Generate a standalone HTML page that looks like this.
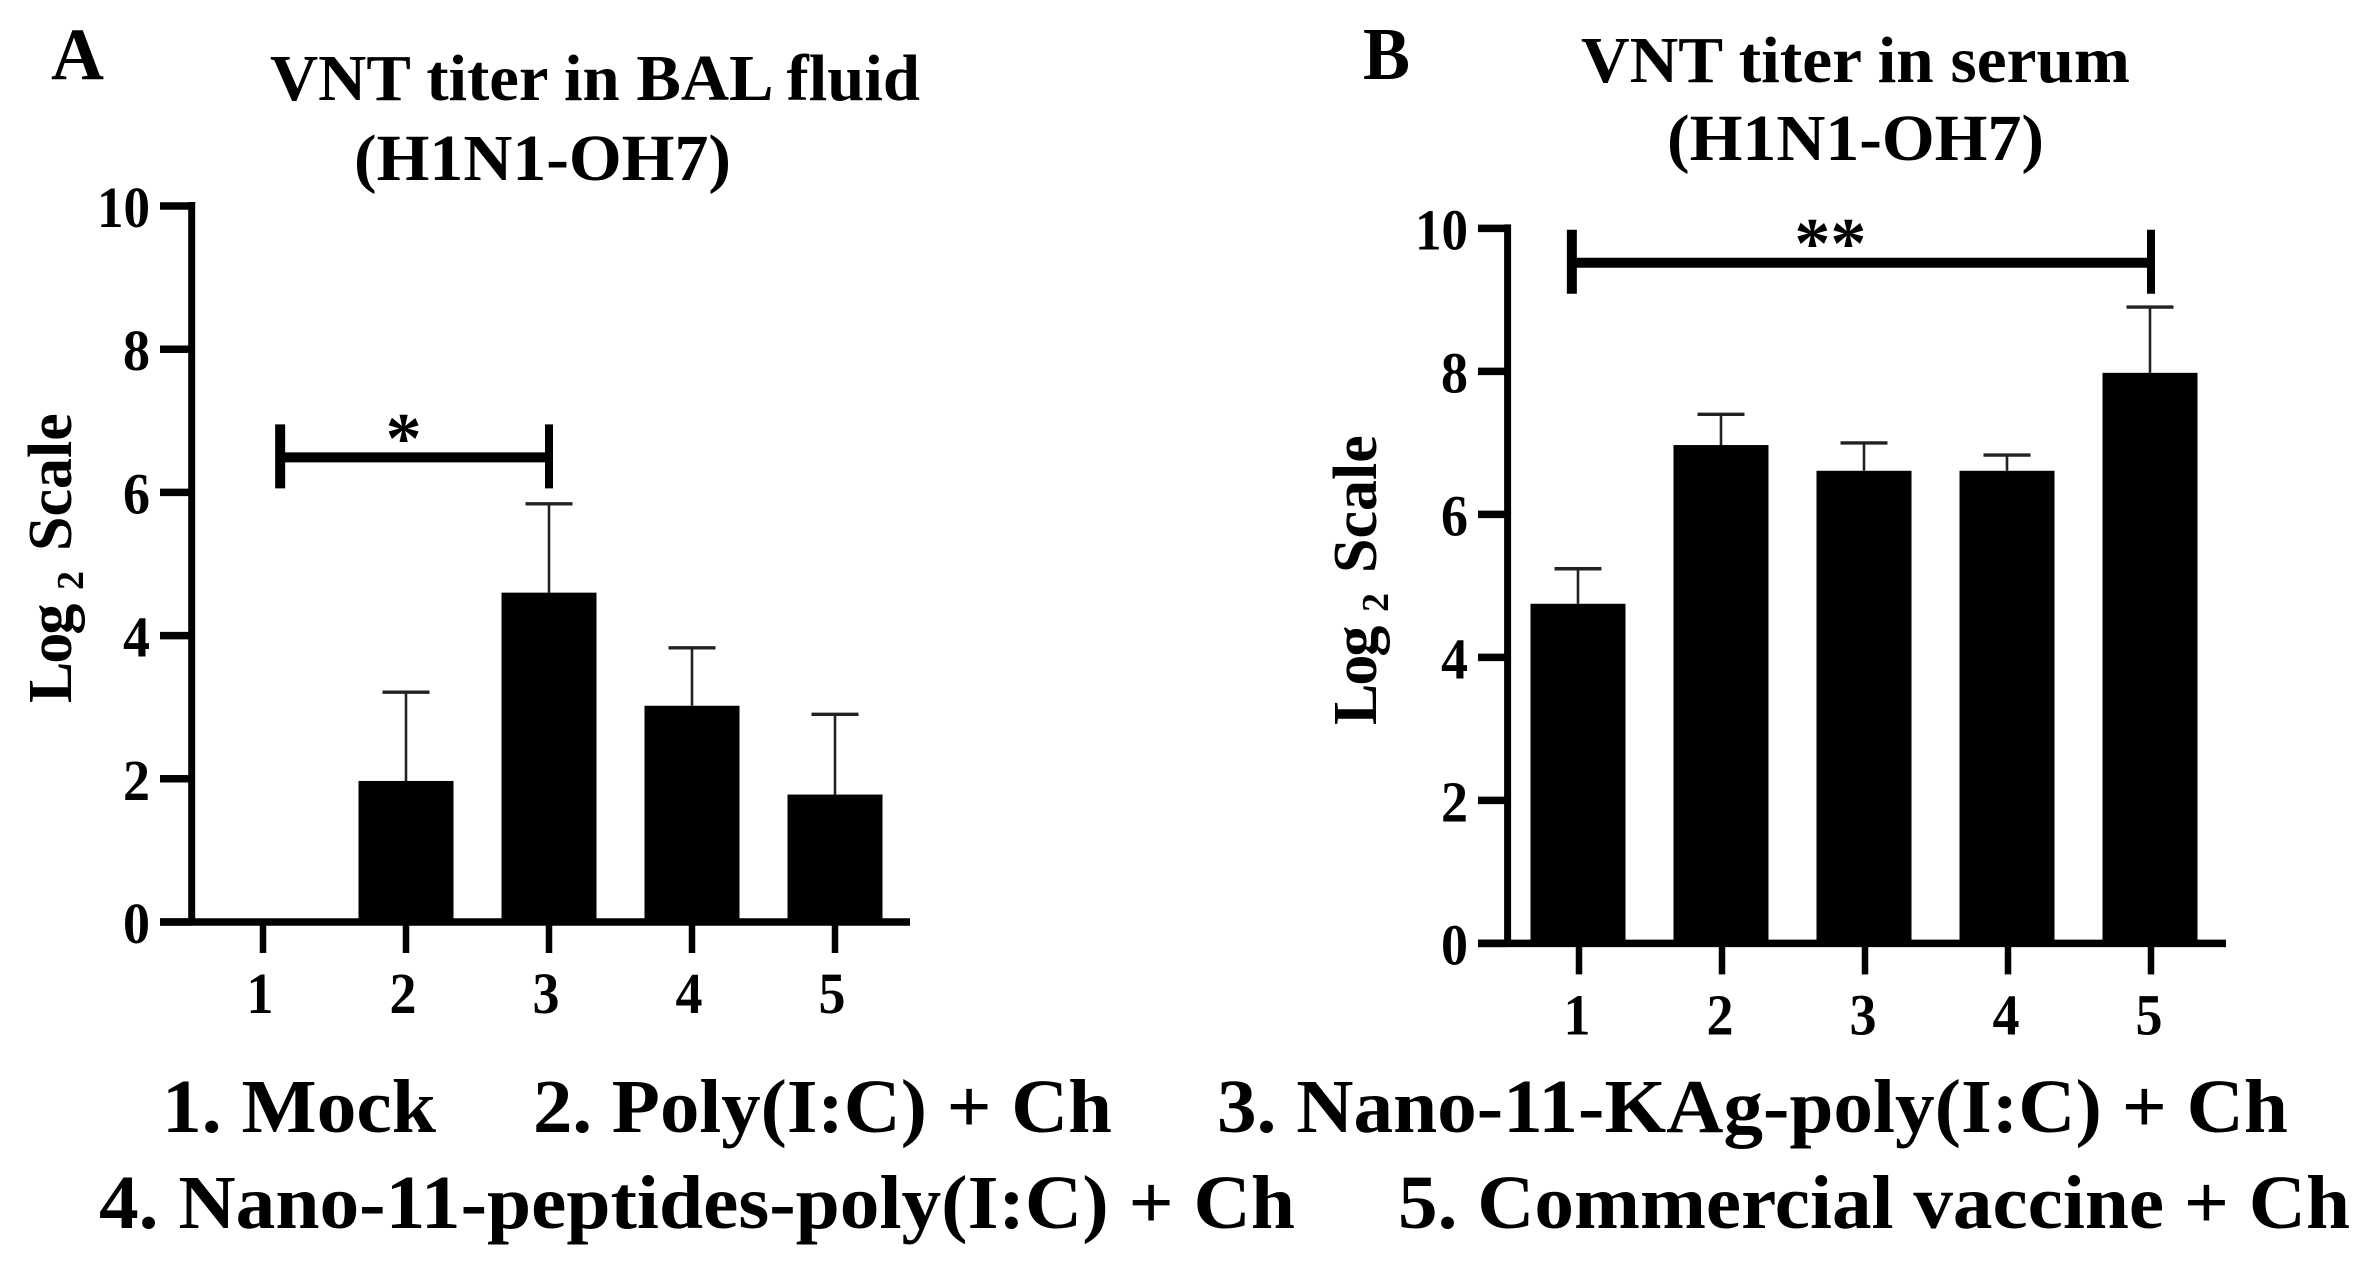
<!DOCTYPE html>
<html lang="en">
<head>
<meta charset="utf-8">
<title>VNT titer charts</title>
<style>
html,body{margin:0;padding:0;background:#fff;width:2364px;height:1261px;overflow:hidden}
svg{display:block}
text{font-family:"Liberation Serif","Times New Roman",serif;font-weight:bold;fill:#000}
</style>
</head>
<body>
<svg id="figure" xmlns="http://www.w3.org/2000/svg" width="2364" height="1261" viewBox="0 0 2364 1261">
  <rect x="0" y="0" width="2364" height="1261" fill="#fff"/>

  <text x="51" y="79" font-size="74" textLength="53" lengthAdjust="spacingAndGlyphs">A</text>
  <text x="1363" y="79" font-size="74" textLength="47" lengthAdjust="spacingAndGlyphs">B</text>

  <text x="270" y="100" font-size="66" textLength="650" lengthAdjust="spacingAndGlyphs">VNT titer in BAL fluid</text>
  <text x="354" y="180" font-size="66" textLength="377" lengthAdjust="spacingAndGlyphs">(H1N1-OH7)</text>
  <text x="1581" y="82" font-size="66" textLength="549" lengthAdjust="spacingAndGlyphs">VNT titer in serum</text>
  <text x="1667" y="160" font-size="66" textLength="377" lengthAdjust="spacingAndGlyphs">(H1N1-OH7)</text>

  <text transform="translate(71,703) rotate(-90)" font-size="62"><tspan x="0" letter-spacing="-2">Log</tspan><tspan x="113" dy="12" font-size="38">2</tspan><tspan x="152" dy="-12">Scale</tspan></text>
  <text transform="translate(1376,725) rotate(-90)" font-size="62"><tspan x="0" letter-spacing="-2">Log</tspan><tspan x="113" dy="12" font-size="38">2</tspan><tspan x="152" dy="-12">Scale</tspan></text>

  <text x="162" y="1132" font-size="76" textLength="274" lengthAdjust="spacingAndGlyphs">1. Mock</text>
  <text x="533" y="1132" font-size="76" textLength="579" lengthAdjust="spacingAndGlyphs">2. Poly(I:C) + Ch</text>
  <text x="1217" y="1132" font-size="76" textLength="1071" lengthAdjust="spacingAndGlyphs">3. Nano-11-KAg-poly(I:C) + Ch</text>
  <text x="99" y="1228" font-size="76" textLength="1196" lengthAdjust="spacingAndGlyphs">4. Nano-11-peptides-poly(I:C) + Ch</text>
  <text x="1398" y="1228" font-size="76" textLength="952" lengthAdjust="spacingAndGlyphs">5. Commercial vaccine + Ch</text>

  <g id="panel-a"></g>
  <g id="panel-b"></g>
</svg>

<script>
const categories = ['1', '2', '3', '4', '5'];
const yTicks = [0, 2, 4, 6, 8, 10];
const balValues = [0, 1.97, 4.6, 3.02, 1.78];
const balErrors = [0, 1.24, 1.24, 0.81, 1.12];
const serumValues = [4.75, 6.97, 6.61, 6.61, 7.98];
const serumErrors = [0.49, 0.43, 0.39, 0.22, 0.92];
const balBracketFrom = 1.12;
const balBracketTo = 3;
const balBracketLevel = 6.49;
const balBracketLabel = '*';
const serumBracketFrom = 0.95;
const serumBracketTo = 5;
const serumBracketLevel = 9.52;
const serumBracketLabel = '**';

const NS = 'http://www.w3.org/2000/svg';

function line(parent, x1, y1, x2, y2, w) {
  const el = document.createElementNS(NS, 'line');
  el.setAttribute('x1', x1);
  el.setAttribute('y1', y1);
  el.setAttribute('x2', x2);
  el.setAttribute('y2', y2);
  el.setAttribute('stroke', '#000');
  el.setAttribute('stroke-width', w);
  parent.appendChild(el);
  return el;
}

function label(parent, x, y, size, anchor, str, len) {
  const el = document.createElementNS(NS, 'text');
  el.setAttribute('x', x);
  el.setAttribute('y', y);
  el.setAttribute('font-size', size);
  el.setAttribute('text-anchor', anchor);
  if (len) {
    el.setAttribute('textLength', len);
    el.setAttribute('lengthAdjust', 'spacingAndGlyphs');
  }
  el.textContent = str;
  parent.appendChild(el);
  return el;
}

function drawPanel(g, o, values, errors, bFrom, bTo, bLevel, bLabel) {
  const xScale = c => o.x1 + (c - 1) * o.step;
  const yScale = v => o.y0 - v * o.unit;

  values.forEach((v, i) => {
    const cx = xScale(i + 1) + o.barShift;
    if (v > 0) {
      const stem = line(g, cx, yScale(v), cx, yScale(v + errors[i]), 2.6);
      stem.setAttribute('stroke', '#222');
      
      
      const cap = line(g, cx - 23.5, yScale(v + errors[i]), cx + 23.5, yScale(v + errors[i]), 3.4);
      cap.setAttribute('stroke', '#222');
      
      
      const bar = document.createElementNS(NS, 'rect');
      bar.setAttribute('x', cx - 47.5);
      bar.setAttribute('y', yScale(v));
      bar.setAttribute('width', 95);
      bar.setAttribute('height', o.y0 - yScale(v));
      bar.setAttribute('fill', '#000');
      
      
      g.appendChild(bar);
    }
  });

  const yAxis = line(g, o.axisX, yScale(10) - 4, o.axisX, o.y0, 7);
  
  
  const xAxis = line(g, o.tickLeft, o.y0, o.axisEnd, o.y0, 7.5);
  
  

  yTicks.forEach(t => {
    const tick = line(g, o.tickLeft, yScale(t), o.axisX, yScale(t), 7.5);
    
    
    const s = String(t);
    const txt = label(g, o.yLabelRight, yScale(t) + 21, 58, 'end', s, s.length > 1 ? 53 : 27);
    
    
  });

  categories.forEach((c, i) => {
    const cx = xScale(i + 1);
    const tick = line(g, cx, o.y0, cx, o.y0 + 31, 6.5);
    
    
    const txt = label(g, cx + o.xLabelShift, o.y0 + 91, 58, 'middle', c, 27);
    
    
  });

  const bx1 = xScale(bFrom);
  const bx2 = xScale(bTo);
  const by = yScale(bLevel);
  const bar = line(g, bx1, by, bx2, by, 10);
  
  
  const endL = line(g, bx1, by - 33, bx1, by + 31, 10);
  
  
  const endR = line(g, bx2, by - 33, bx2, by + 31, 8);
  
  
  const star = label(g, (bx1 + bx2) / 2 + o.starShift, by + o.starDy, 72, 'middle', bLabel);
  
  
}

drawPanel(document.getElementById('panel-a'),
  {x1: 263, step: 143, y0: 922, unit: 71.6, axisX: 191.7, tickLeft: 160, axisEnd: 910, yLabelRight: 150, xLabelShift: -3, barShift: 0, starShift: -11, starDy: 5},
  balValues, balErrors, balBracketFrom, balBracketTo, balBracketLevel, balBracketLabel);

drawPanel(document.getElementById('panel-b'),
  {x1: 1579, step: 143, y0: 943.4, unit: 71.5, axisX: 1507.6, tickLeft: 1478, axisEnd: 2226, yLabelRight: 1468, xLabelShift: -2, barShift: -1, starShift: -31, starDy: 5},
  serumValues, serumErrors, serumBracketFrom, serumBracketTo, serumBracketLevel, serumBracketLabel);
</script>
</body>
</html>
